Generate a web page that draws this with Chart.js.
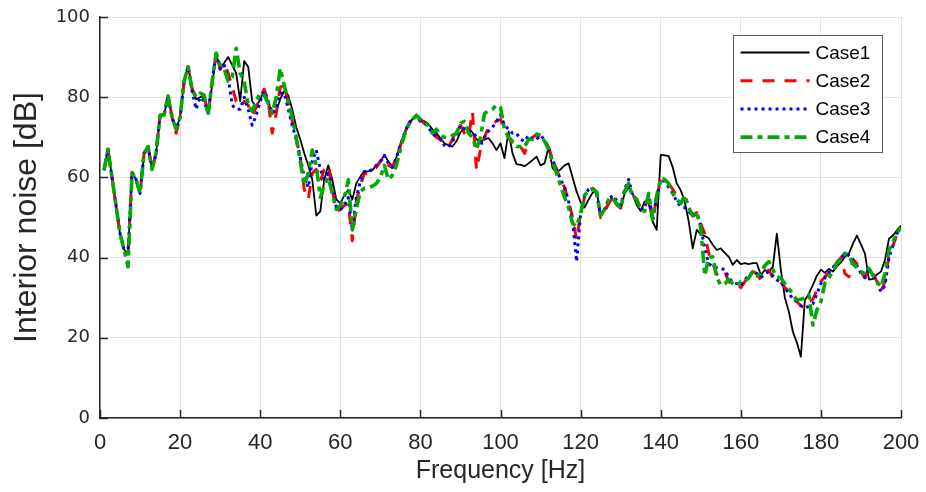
<!DOCTYPE html>
<html>
<head>
<meta charset="utf-8">
<script src="https://cdn.jsdelivr.net/npm/chart.js@4.4.1/dist/chart.umd.min.js"></script>
<style>
  html, body { margin: 0; padding: 0; background: #ffffff; }
  #wrap { width: 926px; height: 492px; }
</style>
</head>
<body>
<div id="wrap"><canvas id="c" width="926" height="492"></canvas></div>
<script>
// Frequency grid [Hz] (1 Hz resolution)
const freqHz = Array.from({ length: 200 }, (_, i) => i + 1);

const case1 = [
  61.8, 67, 60, 53, 46, 42, 41, 61.3, 59.5, 56,
  66, 67.7, 62, 66, 75.5, 75.6, 80.3, 75, 72, 75,
  84, 87.6, 82.5, 79.5, 80, 80.5, 76, 83, 90.5, 87.5,
  88.5, 90, 88, 86, 79, 89, 87.6, 79, 77.5, 79.5,
  81.5, 79, 76, 76.5, 79.5, 81.5, 80.5, 77, 72.5, 69.5,
  66, 63, 59.5, 50.5, 51.5, 59.5, 63, 59.5, 54.5, 53.5,
  55.5, 56.9, 54.5, 58.5, 60.2, 61.5, 61.5, 61.8, 63, 64,
  65.5, 64, 62.7, 65, 68, 71, 73.5, 74.5, 75.3, 74.5,
  74, 73.3, 72, 71, 69.8, 68.5, 68, 67.7, 69, 71.3,
  72.2, 72.2, 71.2, 69.5, 68.8, 69.5, 69.8, 68.5, 66.8, 68.5,
  64.8, 71.5, 66, 63.3, 63.1, 62.8, 63.5, 64.3, 65.2, 63,
  63.5, 67.5, 62.3, 61.2, 62, 63, 63.5, 60, 56.5, 53.8,
  52.5, 54.5, 56.2, 56.4, 51, 51.8, 53.8, 54.6, 53, 52.3,
  56, 57.5, 56, 53.1, 51.6, 54, 53.5, 49, 46.9, 65.6,
  65.5, 65.3, 62.5, 58.5, 56.8, 54, 49, 42.3, 46.9, 45.8,
  45.4, 44.8, 43.2, 41.9, 42.3, 41.2, 40.2, 38.2, 39.4, 38.4,
  38.6, 38.4, 38.6, 38.6, 35.7, 36.9, 36.5, 37.7, 46, 37,
  30, 26.5, 21.5, 18.8, 15.3, 29.4, 31, 33.2, 35.5, 37,
  36.2, 37.2, 36.5, 37.8, 38.8, 40.2, 41, 43.5, 45.5, 43.3,
  41, 34.5, 34.7, 35.8, 36.5, 39.4, 44.7, 45.5, 46.8, 48
];

const case2 = [
  61.8, 67, 60, 53, 46, 42, 41, 61.3, 59.5, 56,
  66, 67.7, 62, 66, 75.5, 75.6, 80.3, 75, 71, 75,
  84, 87.6, 82, 79.5, 80, 80, 76, 83.5, 91, 87,
  88.5, 86, 82.5, 79, 77.5, 79, 78, 75.5, 77.5, 80,
  82, 79, 71, 76, 82.5, 83, 78.5, 74, 69.5, 65,
  57, 54.5, 61, 62, 59, 62, 63, 57, 51.5, 52,
  53, 53.5, 44.2, 54, 58, 61, 61, 61.5, 62.5, 64,
  65, 63, 62.5, 65, 68, 71, 73, 74.5, 75.3, 74.3,
  73.5, 73, 71.5, 70, 69.5, 68, 67.5, 69.5, 71.5, 73,
  71, 70, 76.4, 61.8, 67, 70, 72.5, 73.5, 74, 74.5,
  72, 70, 68.5, 67.5, 67.7, 66, 68.5, 70, 70.6, 70,
  69.3, 67.5, 64.5, 62, 59.5, 57.5, 54, 50, 44.5, 51,
  55, 56.8, 57.3, 56.4, 50, 51.5, 53.5, 55, 54, 52.3,
  56.5, 58.5, 55.5, 54.6, 52, 52.5, 55.6, 49.4, 55, 59.6,
  59.2, 58.5, 57, 55.5, 53.5, 54.8, 52, 50.3, 51.2, 48.5,
  46, 41, 38.6, 35.8, 37, 36.5, 34, 33.3, 33.5, 32.5,
  34, 35.5, 36.5, 36, 34.4, 36, 36.9, 35, 34, 34,
  32.5, 31.5, 30.2, 29, 28, 27.5, 29, 29.6, 31.9, 34,
  35.2, 36.3, 37.5, 38.8, 40, 36, 35.2, 39.5, 38.5, 36.5,
  35, 37.3, 36, 34, 31.5, 34, 40.5, 43, 46, 47.5
];

const case3 = [
  61.8, 67, 60, 53, 46, 42, 41, 61.3, 59.5, 56,
  66, 67.7, 62, 66, 75.5, 75.6, 80.3, 75, 72, 75,
  84, 87.6, 81.5, 77, 80, 79, 76, 84, 91, 87,
  88, 85, 78, 77, 77, 80, 77, 73, 75.5, 79,
  81.5, 79, 76, 77, 81, 81, 77, 73, 69.5, 65,
  60, 57.5, 64, 66.8, 62, 59.5, 61, 58, 52.5, 52,
  53, 55, 47, 55, 59, 61.5, 61.5, 62, 63, 64,
  65.5, 63.5, 62.5, 65, 68, 71, 73.5, 74.5, 75.2, 74,
  73.5, 72.5, 71, 70, 69.5, 68, 67.5, 69, 70.5, 73,
  72, 71.5, 71.5, 70, 68, 70, 71.5, 72.5, 74, 75.6,
  73, 72, 71, 71, 69.5, 69, 70.5, 69.5, 69.5, 70.5,
  69.3, 67.5, 64.5, 62, 59.5, 57.5, 54, 49, 39, 51,
  55.5, 57, 57.3, 56, 50.5, 52, 54.5, 55.5, 54.3, 53,
  57, 59.5, 55.5, 54.5, 52, 52.5, 55.6, 49.5, 55, 59.3,
  59, 57.5, 56, 54, 52.7, 52.5, 51.5, 50.3, 51, 48,
  42, 38.5, 37.7, 37.5, 37.3, 37, 35, 33.8, 33.5, 33,
  34.5, 35.5, 36.5, 36, 35, 36, 36.5, 35.5, 34.5, 33.8,
  32.5, 31, 29.8, 29, 28, 27.5, 27.8, 28.5, 31, 33.5,
  35, 36.3, 37.5, 38.8, 40, 41, 40.5, 39.5, 38, 36,
  35, 37.3, 35.5, 34, 31.5, 33, 40, 43, 46, 47.5
];

const case4 = [
  61.8, 67, 60, 53, 46, 42, 37.7, 61, 59.5, 56,
  66, 67.7, 62, 66, 75.5, 75.6, 80.3, 75, 72, 75,
  84, 87.6, 82, 80, 81, 80.5, 75.5, 84, 91, 88,
  87, 84, 85, 92.2, 86, 84, 78, 76.5, 79, 81,
  80.5, 78.5, 76, 80, 87.2, 83, 79, 75, 70, 64,
  58, 61, 66.8, 63, 55, 58, 60, 56, 52, 53,
  55, 59.4, 46.9, 52, 56.5, 57.3, 57.5, 57.8, 58.5, 60,
  63, 59.5, 60.5, 63, 67, 70.5, 73, 74.5, 75.5, 74.5,
  73.5, 73, 71, 72, 70.5, 70, 70, 70.5, 71, 73.5,
  74, 71, 70, 67, 70, 76, 76.5, 77, 78, 77.5,
  72, 70, 69, 67.7, 67.7, 67.5, 69.5, 69.5, 70.8, 70.5,
  69, 67, 64, 61, 58, 55, 52.5, 48.5, 47.8, 51,
  55.5, 56.8, 57, 56.4, 50.5, 52, 54.5, 55, 53.5, 52.3,
  56.5, 58.5, 55, 54.6, 52, 51.5, 56, 49.5, 55.5, 59.8,
  59.5, 58.5, 56, 54.5, 53.5, 55.5, 52.5, 50.5, 51.5, 47.5,
  35.5, 40, 40.2, 35, 33.2, 33.5, 34.5, 33.5, 33, 34,
  34, 35, 36.5, 35.5, 36, 38, 39, 37, 35.2, 35,
  33.5, 32.3, 30.8, 29.4, 29.6, 30, 30.7, 23.2, 26.9, 29,
  33.6, 35, 36.5, 38.5, 39.8, 41.1, 40.5, 38.5, 37.5, 36.5,
  36, 37.3, 35.5, 34, 32.7, 36, 41.9, 44, 46.1, 47.5
];

const seriesNames = ['Case1', 'Case2', 'Case3', 'Case4'];
const xTickValues = [0, 20, 40, 60, 80, 100, 120, 140, 160, 180, 200];
const yTickValues = [0, 20, 40, 60, 80, 100];
const xTitle = 'Frequency [Hz]';
const yTitle = 'Interior noise [dB]';

const styles = [
  { color: '#000000', width: 1.8, dash: [] },
  { color: '#ff0000', width: 3, dash: [12, 10] },
  { color: '#0000ff', width: 3, dash: [3, 4] },
  { color: '#00aa00', width: 3.6, dash: [12, 5, 5, 5] }
];

const allSeries = [case1, case2, case3, case4];
const datasets = allSeries.map((vals, k) => ({
  label: seriesNames[k],
  data: vals.map((v, i) => ({ x: freqHz[i], y: v })),
  borderColor: styles[k].color,
  backgroundColor: styles[k].color,
  borderWidth: styles[k].width,
  borderDash: styles[k].dash,
  borderJoinStyle: 'round',
  pointRadius: 0,
  tension: 0,
  fill: false,
  order: 4 - k
}));

const axisColor = '#262626';

const decor = {
  id: 'decor',
  afterDatasetsDraw(chart) {
    const { ctx, chartArea: a, scales: { x, y } } = chart;
    ctx.save();
    // inward tick marks
    ctx.strokeStyle = axisColor;
    ctx.lineWidth = 1.5;
    xTickValues.forEach(v => {
      const px = Math.round(x.getPixelForValue(v)) + 0.5;
      ctx.beginPath(); ctx.moveTo(px, a.bottom); ctx.lineTo(px, a.bottom - 8); ctx.stroke();
    });
    yTickValues.forEach(v => {
      const py = Math.round(y.getPixelForValue(v)) + 0.5;
      ctx.beginPath(); ctx.moveTo(a.left, py); ctx.lineTo(a.left + 8, py); ctx.stroke();
    });
    // legend box
    const bx = Math.round(a.right - 168) + 0.5, by = Math.round(a.top + 18) + 0.5;
    const bw = 149, bh = 117;
    ctx.fillStyle = '#ffffff';
    ctx.fillRect(bx, by, bw, bh);
    ctx.strokeStyle = '#5c5c5c';
    ctx.lineWidth = 1;
    ctx.setLineDash([]);
    ctx.strokeRect(bx, by, bw, bh);
    ctx.font = '19px "Liberation Sans", Arial, sans-serif';
    ctx.textBaseline = 'middle';
    ctx.textAlign = 'left';
    chart.data.datasets.forEach((ds, k) => {
      const ry = by + 17 + k * 28.2;
      ctx.strokeStyle = ds.borderColor;
      ctx.lineWidth = ds.borderWidth;
      ctx.setLineDash(ds.borderDash || []);
      ctx.beginPath(); ctx.moveTo(bx + 7, ry); ctx.lineTo(bx + 76, ry); ctx.stroke();
      ctx.setLineDash([]);
      ctx.fillStyle = '#000000';
      ctx.fillText(ds.label, bx + 82, ry + 1);
    });
    ctx.restore();
  }
};

new Chart(document.getElementById('c'), {
  type: 'line',
  data: { datasets },
  options: {
    responsive: false,
    animation: false,
    layout: { padding: { left: 0, right: 25, top: 17, bottom: 0 } },
    plugins: { legend: { display: false }, tooltip: { enabled: false } },
    scales: {
      x: {
        type: 'linear', min: 0, max: 200,
        afterBuildTicks: s => { s.ticks = xTickValues.map(v => ({ value: v })); },
        afterFit: s => { s.height = 74; s.paddingLeft = 0; s.paddingRight = 0; },
        grid: { color: '#e3e3e3', lineWidth: 1, drawTicks: false },
        border: { display: true, color: axisColor, width: 1.5 },
        ticks: { color: axisColor, padding: 12, maxRotation: 0,
          font: { family: '"Liberation Sans", Arial, sans-serif', size: 22 } },
        title: { display: true, text: xTitle, color: axisColor, padding: { top: 0, bottom: 6 },
          font: { family: '"Liberation Sans", Arial, sans-serif', size: 25 } }
      },
      y: {
        type: 'linear', min: 0, max: 100,
        afterBuildTicks: s => { s.ticks = yTickValues.map(v => ({ value: v })); },
        afterFit: s => { s.width = 100; s.paddingTop = 0; s.paddingBottom = 0; },
        grid: { color: '#e3e3e3', lineWidth: 1, drawTicks: false },
        border: { display: true, color: axisColor, width: 1.5 },
        ticks: { color: axisColor, padding: 10,
          font: { family: '"DejaVu Sans", sans-serif', size: 18 } },
        title: { display: true, text: yTitle, color: axisColor, padding: { top: 8, bottom: 0 },
          font: { family: '"Liberation Sans", Arial, sans-serif', size: 32 } }
      }
    }
  },
  plugins: [decor]
});
</script>
</body>
</html>
